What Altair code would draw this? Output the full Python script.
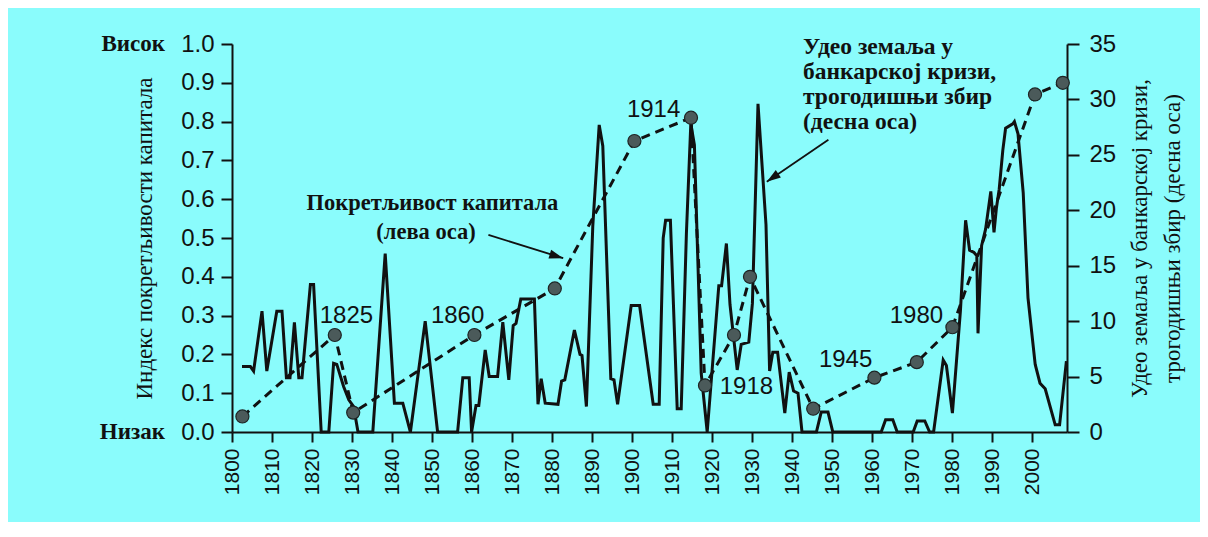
import altair as alt
import pandas as pd

# Capital mobility index (left axis), dashed line with dots
mob_years = [1802.6, 1825.7, 1830.3, 1860.6, 1880.7, 1900.6, 1914.75, 1918.25,
             1925.5, 1929.5, 1945.3, 1960.6, 1971.2, 1980.1, 2000.75, 2007.7]
mob_values = [0.04, 0.25, 0.05, 0.25, 0.37, 0.75, 0.81, 0.12,
              0.25, 0.40, 0.06, 0.14, 0.18, 0.27, 0.87, 0.90]

# Share of countries in banking crisis, 3-year sum (right axis), solid line
crisis_years = [1802.5, 1804.6, 1805.4, 1807.5, 1808.7, 1811.2, 1812.5, 1813.6, 1814.5, 1815.6,
                1816.7, 1817.5, 1819.6, 1820.4, 1822.3, 1824.2, 1825.4, 1826.2, 1827.9, 1829.2,
                1830.4, 1831.5, 1835.2, 1838.3, 1840.6, 1842.7, 1844.6, 1848.3, 1851.4, 1856.4,
                1857.7, 1859.3, 1859.9, 1861.0, 1861.7, 1863.3, 1864.3, 1866.4, 1867.7, 1869.2,
                1870.3, 1871.0, 1872.2, 1875.6, 1876.5, 1877.3, 1878.3, 1881.5, 1882.4, 1883.2,
                1885.6, 1887.0, 1887.5, 1888.6, 1890.2, 1891.8, 1892.7, 1894.7, 1895.5, 1896.4,
                1899.8, 1901.9, 1905.3, 1906.8, 1907.8, 1908.4, 1909.6, 1911.3, 1912.3, 1913.6,
                1914.7, 1915.6, 1917.3, 1918.8, 1921.7, 1922.4, 1923.6, 1924.5, 1926.3, 1927.3,
                1929.2, 1930.1, 1931.5, 1933.5, 1934.4, 1935.2, 1936.4, 1938.2, 1939.3, 1940.4,
                1941.5, 1942.5, 1946.1, 1947.3, 1949.0, 1950.2, 1962.3, 1963.4, 1965.2, 1966.3,
                1970.3, 1971.3, 1973.2, 1974.4, 1975.4, 1977.8, 1978.6, 1980.1, 1982.1, 1983.4,
                1984.4, 1985.5, 1986.2, 1986.5, 1987.4, 1988.4, 1989.7, 1990.5, 1991.1, 1991.8,
                1992.7, 1993.4, 1995.2, 1995.6, 1996.5, 1997.8, 1999.0, 2000.8, 2002.0, 2003.3,
                2005.8, 2006.9, 2008.6]
crisis_values = [5.9, 5.9, 5.5, 10.9, 5.5, 10.9, 10.9, 4.9, 4.9, 9.9,
                 4.9, 4.9, 13.3, 13.3, 0.0, 0.0, 6.2, 6.1, 4.1, 2.9,
                 2.3, 0.0, 0.0, 16.1, 2.6, 2.6, 0.0, 10.0, 0.0, 0.0,
                 4.9, 4.9, 0.0, 2.4, 2.4, 7.4, 5.0, 5.0, 9.9, 4.7,
                 9.6, 9.8, 12.0, 12.0, 2.5, 4.8, 2.6, 2.5, 4.6, 4.7,
                 9.2, 7.0, 6.9, 2.3, 18.6, 27.7, 25.8, 4.8, 4.7, 2.5,
                 11.4, 11.4, 2.5, 2.5, 17.5, 19.1, 19.1, 2.1, 2.1, 17.9,
                 27.8, 25.9, 5.3, 0.0, 13.2, 13.2, 17.0, 11.5, 5.6, 7.9,
                 8.1, 11.6, 29.6, 18.7, 5.5, 7.2, 7.2, 1.7, 5.4, 3.7,
                 3.5, 0.0, 0.0, 1.8, 1.8, 0.0, 0.0, 1.1, 1.1, 0.0,
                 0.0, 1.0, 1.0, 0.0, 0.0, 6.5, 6.0, 1.7, 10.9, 19.1,
                 16.4, 16.2, 15.9, 8.9, 16.8, 18.3, 21.7, 18.0, 20.2, 21.9,
                 25.4, 27.4, 27.8, 28.0, 26.9, 21.6, 12.1, 6.1, 4.4, 3.9,
                 0.65, 0.65, 6.4]

x_ticks = list(range(1800, 2001, 10))
left_ticks = [round(i * 0.1, 1) for i in range(11)]
right_ticks = list(range(0, 36, 5))

# annotations (in data coordinates: year, left-axis value)
year_labels = ["1825", "1860", "1914", "1918", "1945", "1980"]
year_label_x = [1828.6, 1856.4, 1905.4, 1928.6, 1953.4, 1971.1]
year_label_y = [0.299, 0.299, 0.831, 0.116, 0.186, 0.299]

center_notes = ["Покретљивост капитала", "(лева оса)"]
center_notes_x = [1850.1, 1848.5]
center_notes_y = [0.59, 0.515]

left_notes = ["Удео земаља у", "банкарској кризи,", "трогодишњи збир", "(десна оса)"]
left_notes_x = [1942.75, 1942.75, 1942.75, 1942.75]
left_notes_y = [0.992, 0.928, 0.863, 0.799]

arrow_x = [1864.1, 1949.1]
arrow_y = [0.508, 0.753]
arrow_x2 = [1882.8, 1933.7]
arrow_y2 = [0.448, 0.645]
arrow_angle = [17, 145.5]

SANS = "Liberation Sans"
NARROW = "Liberation Sans Narrow"
SERIF = "Liberation Serif"
BG = "#8afcfc"

mob = pd.DataFrame({"year": mob_years, "value": mob_values})
crisis = pd.DataFrame({"year": crisis_years, "value": crisis_values})
ylab = pd.DataFrame({"year": year_label_x, "value": year_label_y, "text": year_labels})
cnotes = pd.DataFrame({"year": center_notes_x, "value": center_notes_y, "text": center_notes})
lnotes = pd.DataFrame({"year": left_notes_x, "value": left_notes_y, "text": left_notes})
arrows = pd.DataFrame({"year": arrow_x, "value": arrow_y, "year2": arrow_x2,
                       "value2": arrow_y2, "ang": arrow_angle})
hilo = pd.DataFrame({"value": [1.0, 0.0], "text": ["Висок", "Низак"]})

xscale = alt.Scale(domain=[1800, 2008.75], nice=False, zero=False)
lscale = alt.Scale(domain=[0, 1], nice=False)
rscale = alt.Scale(domain=[0, 35], nice=False)

x_axis = alt.Axis(values=x_ticks, format="d", labelAngle=270, labelFont=SANS,
                  labelFontSize=21, labelColor="#111", labelPadding=6, tickSize=10,
                  tickWidth=2, domainWidth=2, domainColor="#111", tickColor="#111",
                  grid=False, title=None)

left_axis = alt.Axis(orient="left", values=left_ticks, format=".1f", labelFont=SANS,
                     labelFontSize=24, labelColor="#111", labelPadding=7, tickSize=11,
                     tickWidth=2, domainWidth=2, domainColor="#111", tickColor="#111",
                     grid=False, title="Индекс покретљивости капитала",
                     titleFont=NARROW, titleFontSize=23, titleFontWeight="normal",
                     titleColor="#111", titleAngle=270, titleX=-88, titleY=194,
                     titleAlign="center", titleBaseline="middle")

right_axis = alt.Axis(orient="right", values=right_ticks, format="d", labelFont=SANS,
                      labelFontSize=24, labelColor="#111", labelPadding=10, tickSize=12,
                      tickWidth=2, domainWidth=2, domainColor="#111", tickColor="#111",
                      grid=False,
                      title=["Удео земаља у банкарској кризи,", "трогодишњи збир (десна оса)"],
                      titleFont=NARROW, titleFontSize=23, titleFontWeight="normal",
                      titleColor="#111", titleAngle=270, titleX=72, titleY=194,
                      titleAlign="center", titleBaseline="middle", titleLineHeight=33)


def X(field="year:Q"):
    return alt.X(field, scale=xscale, axis=x_axis)


def YL(field="value:Q"):
    return alt.Y(field, scale=lscale, axis=left_axis)


crisis_line = alt.Chart(crisis).mark_line(color="#111", strokeWidth=3, strokeJoin="miter").encode(
    x=X(),
    y=alt.Y("value:Q", scale=rscale, axis=right_axis),
)

mob_line = alt.Chart(mob).mark_line(color="#111", strokeWidth=3, strokeDash=[9, 6]).encode(
    x=X(), y=YL(),
)
mob_pts = alt.Chart(mob).mark_point(filled=True, size=170, fill="#4b5a5a", stroke="#1e2424",
                                    strokeWidth=1.2, opacity=1).encode(x=X(), y=YL())
ylab_txt = alt.Chart(ylab).mark_text(font=SANS, fontSize=24, color="#111",
                                     align="center", baseline="middle").encode(
    x=X(), y=YL(), text="text:N",
)
cnote_txt = alt.Chart(cnotes).mark_text(font=SERIF, fontSize=22.5, fontWeight="bold", color="#111",
                                        align="center", baseline="middle").encode(
    x=X(), y=YL(), text="text:N",
)
lnote_txt = alt.Chart(lnotes).mark_text(font=SERIF, fontSize=23.5, fontWeight="bold", color="#111",
                                        align="left", baseline="middle").encode(
    x=X(), y=YL(), text="text:N",
)
arrow_lines = alt.Chart(arrows).mark_rule(color="#111", strokeWidth=1.8).encode(
    x=X(), y=YL(), x2="year2:Q", y2="value2:Q",
)
arrow_heads = alt.Chart(arrows).mark_point(shape="M -1.4 -0.45 L 0 0 L -1.4 0.45 Z", filled=True,
                                           size=400, color="#111", opacity=1).encode(
    x=X("year2:Q"), y=YL("value2:Q"),
    angle=alt.Angle("ang:Q", scale=None),
)
hilo_txt = alt.Chart(hilo).mark_text(font=SERIF, fontSize=23, fontWeight="bold", color="#111",
                                     align="right", baseline="middle").encode(
    x=alt.value(-67), y=YL(), text="text:N",
)

left_group = alt.layer(mob_line, mob_pts, ylab_txt, cnote_txt, lnote_txt,
                       arrow_lines, arrow_heads, hilo_txt)

chart = alt.layer(crisis_line, left_group).resolve_scale(y="independent").properties(
    width=835, height=388,
    autosize=alt.AutoSizeParams(type="none"),
    padding={"left": 224, "top": 36, "right": 133, "bottom": 90},
    background=BG,
).configure_view(strokeWidth=0)

chart.save("out.html", embed_options={"renderer": "svg", "actions": False})
